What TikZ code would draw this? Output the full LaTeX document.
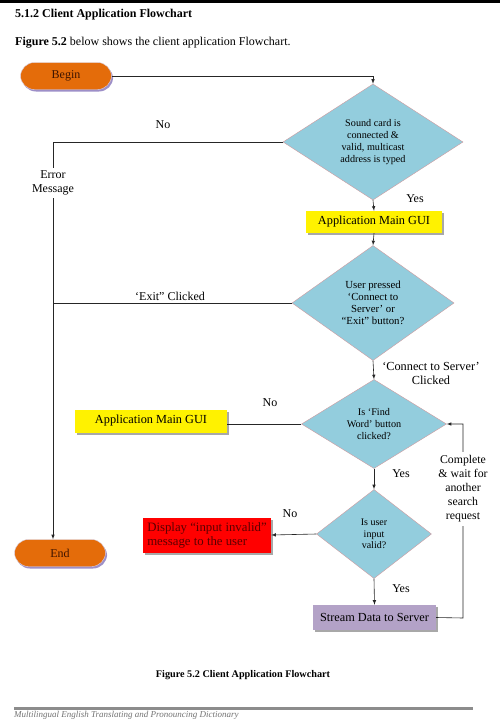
\documentclass[tikz,border=0pt]{standalone}
\usepackage{fontspec}
\setmainfont{Liberation Serif}
\usepackage{tikz}
\usetikzlibrary{shapes.geometric}
\usetikzlibrary{shadows}
\definecolor{pillorange}{HTML}{E46C0A}
\definecolor{pillshadow}{HTML}{9D8FC8}
\definecolor{pilltext}{HTML}{3F1400}
\definecolor{aquafill}{HTML}{93CDDD}
\definecolor{diaborder}{HTML}{D09A9E}
\definecolor{boxshadow}{HTML}{A8A8A8}
\definecolor{redtext}{HTML}{5C0000}
\definecolor{lilac}{HTML}{B3A2C7}

\begin{document}
\begin{tikzpicture}[x=1pt, y=-1pt,
		      pill/.style={draw=pillshadow!40, fill=pillorange, rounded corners=14pt, minimum width=91pt, minimum height=27pt, text=pilltext, font=\fontsize{12}{14}\selectfont, drop shadow={shadow xshift=1.5pt, shadow yshift=-2pt, fill=pillshadow, opacity=1}},
		      decision/.style={diamond, draw=diaborder, fill=aquafill, inner sep=0pt, align=center, font=\fontsize{10.2}{11.8}\selectfont},
		      stepbox/.style={draw=none, inner sep=2pt, font=\fontsize{12.3}{14}\selectfont, drop shadow={shadow xshift=2pt, shadow yshift=-2pt, fill=boxshadow, opacity=1}},
		      lbl/.style={font=\fontsize{12}{14}\selectfont, align=center, inner sep=1pt},
		      arr/.style={->, >=latex, line width=0.6pt, color=black!85},
		      ln/.style={line width=0.6pt, color=black!85}]
		      \useasboundingbox (0,0) rectangle (500,720);
		      \fill[white] (0,0) rectangle (500,720);
		      \draw[line width=3pt] (0,1) -- (500,1);

		      \node[anchor=west, inner sep=0pt, font=\fontsize{12}{14}\selectfont\bfseries] (title) at (15,15) {5.1.2 Client Application Flowchart};
		      \node[anchor=west, inner sep=0pt, font=\fontsize{12}{14}\selectfont] (intro) at (15,43) {\textbf{Figure 5.2} below shows the client application Flowchart.};

		      \node[pill] (begin) at (66,76) {Begin};
		      \node[pill] (end) at (60,553) {End};

		      \node[decision, minimum width=180pt, minimum height=116pt] (sound) at (373,142) {Sound card is\\connected \&\\valid, multicast\\address is typed};
		      \node[stepbox, fill=yellow, minimum width=136pt, minimum height=22pt] (gui) at (374,222) {Application Main GUI};
		      \node[decision, minimum width=162pt, minimum height=115pt, font=\fontsize{10.8}{11.8}\selectfont] (pressed) at (373,303) {User pressed\\‘Connect to\\Server’ or\\“Exit” button?};
		      \node[decision, minimum width=145pt, minimum height=89pt] (find) at (374,424) {Is ‘Find\\Word’ button\\clicked?};
		      \node[decision, minimum width=115pt, minimum height=89pt, font=\fontsize{10}{11.5}\selectfont] (valid) at (374,534) {Is user\\input\\valid?};
		      \node[stepbox, fill=lilac, minimum width=123pt, minimum height=25pt] (stream) at (374.5,617.5) {Stream Data to Server};

		      \node[stepbox, fill=yellow, minimum width=152pt, minimum height=23pt] (gui2) at (151,421) {Application Main GUI};
		      \node[stepbox, fill=red, text=redtext, minimum width=128pt, minimum height=35pt, align=left, font=\fontsize{12.8}{14}\selectfont] (invalid) at (207,535) {Display “input invalid”\\message to the user};

		      \coordinate (lc) at (53,142);
		      \coordinate (rc) at (463,618);

		      \draw[arr] (begin.east) -| (sound.north);
		      \draw[arr] (sound.west) -- (lc) -- (lc |- end.north);
		      \draw[ln] (pressed.west) -- (pressed.west -| lc);
		      \draw[arr] (sound.south) -- (gui.north);
		      \draw[arr] (gui.south) -- (pressed.north);
		      \draw[arr] (pressed.south) -- (find.north);
		      \draw[ln] (find.west) -- (find.west -| gui2.east);
		      \draw[arr] (find.south) -- (valid.north);
		      \draw[arr] (valid.west) -- (invalid.east);
		      \draw[arr] (valid.south) -- (stream.north);
		      \draw[arr] (stream.east) -- (rc) |- (find.east);

		      \node[lbl, fill=white, inner sep=3pt] (errmsg) at (53,183) {Error\\Message};
		      \node[lbl, fill=white, inner sep=4pt, font=\fontsize{11.8}{14}\selectfont] (complete) at (463,489) {Complete\\\& wait for\\another\\search\\request};

		      \node[lbl] (no1) at (163,125) {No};
		      \node[lbl] (yes1) at (415,199) {Yes};
		      \node[lbl] (exit) at (170,296) {‘Exit” Clicked};
		      \node[lbl, font=\fontsize{12.3}{14}\selectfont] (connect) at (431,373) {‘Connect to Server’\\Clicked};
		      \node[lbl] (no2) at (270,403) {No};
		      \node[lbl] (yes2) at (401,474) {Yes};
		      \node[lbl] (no3) at (290,514) {No};
		      \node[lbl] (yes3) at (401,589) {Yes};

		      \node[inner sep=0pt, font=\fontsize{10.2}{13}\selectfont\bfseries] (caption) at (243,675) {Figure 5.2 Client Application Flowchart};
		      \draw[line width=2.5pt, color=black!45] (14,708.5) -- (473,708.5);
		      \node[anchor=base west, inner sep=0pt, text=black!55, font=\fontsize{9}{11}\selectfont\itshape] (footer) at (14,717.5) {Multilingual English Translating and Pronouncing Dictionary};
	      \end{tikzpicture}
\end{document}
